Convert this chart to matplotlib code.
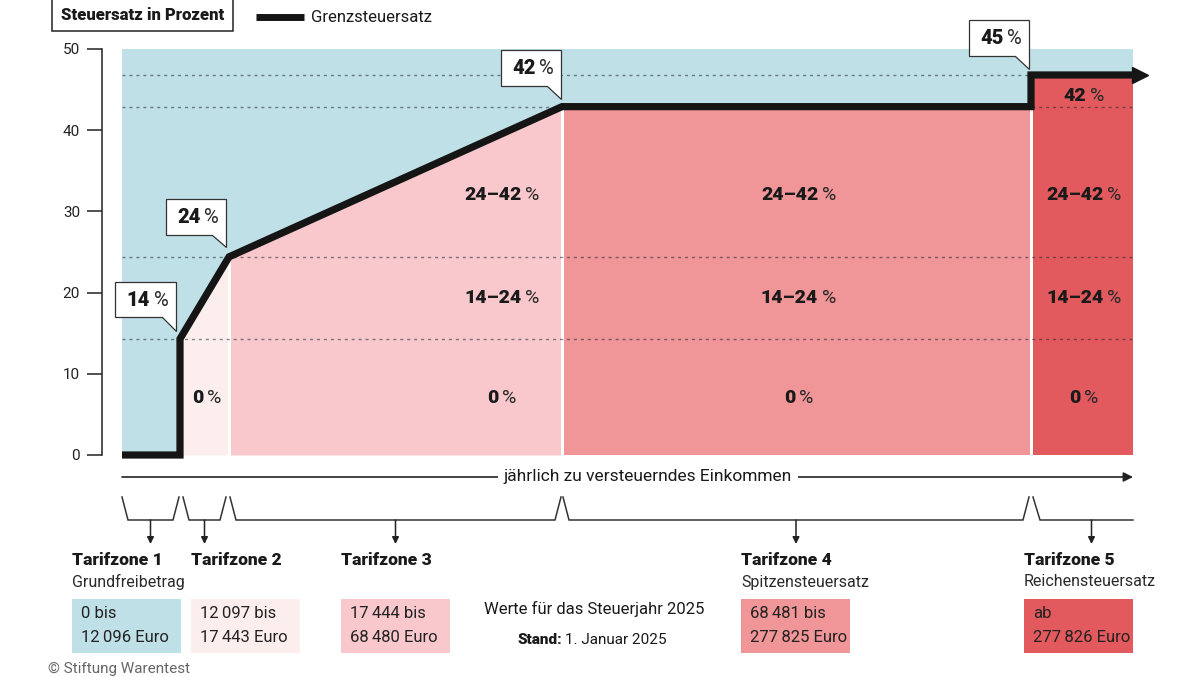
import matplotlib
matplotlib.use('Agg')
import matplotlib.pyplot as plt
import matplotlib.transforms as mtransforms
from matplotlib.patches import Polygon, Rectangle
import numpy as np

plt.rcParams['font.family'] = ['Roboto', 'DejaVu Sans']

# ---- data ----
zone_names = ['Tarifzone 1', 'Tarifzone 2', 'Tarifzone 3', 'Tarifzone 4', 'Tarifzone 5']
zone_subtitles = ['Grundfreibetrag', '', '', 'Spitzensteuersatz', 'Reichensteuersatz']
range_line1 = ['0 bis', '12\u2009097 bis', '17\u2009444 bis', '68\u2009481 bis', 'ab']
range_line2 = ['12\u2009096 Euro', '17\u2009443 Euro', '68\u2009480 Euro', '277\u2009825 Euro', '277\u2009826 Euro']

# marginal rate at the kinks (labels) and where they sit on the 0-50 scale
kink_labels = ['14', '24', '42', '45']
kink_levels = [14.3, 24.4, 42.9, 46.8]

# rate bands written inside the zones
band_labels = ['0', '14\u201324', '24\u201342']
band_levels = [7.0, 19.3, 32.0]
top_band_label = '42'
top_band_level = 44.2

y_ticks = [0, 10, 20, 30, 40, 50]

# ---- layout (schematic, x axis is not to scale) ----
W, H = 1200, 677
X0 = 122
zone_edges = [0, 58, 107, 440, 909, 1011]
zone_colors = ['#bee0e6', '#fdeeee', '#f8c8cc', '#f09598', '#e25a5e']
band_x = [82.5, 378, 674.5, 960]
label_x = [72, 191, 341, 741, 1024]
INK = '#1a1a1a'


def px_box(x0, y0, x1, y1):
    return [x0 / W, 1 - y1 / H, (x1 - x0) / W, (y1 - y0) / H]


def pct_text(axes, x, y, num, size, coords, shift=5):
    t = axes.annotate(num, xy=(x, y), xycoords=coords, xytext=(-shift, 0),
                      textcoords='offset points', ha='center', va='center',
                      fontsize=size, fontweight='heavy', color=INK, zorder=6)
    axes.annotate('%', xy=(1, 0), xycoords=t, xytext=(2.5, 0),
                  textcoords='offset points', ha='left', va='bottom',
                  fontsize=size, color='#2a2a2a', zorder=6)


fig = plt.figure(figsize=(W / 100, H / 100), dpi=100)

ax = fig.add_axes(px_box(X0, 49, X0 + zone_edges[-1], 455))
ax.set_xlim(zone_edges[0], zone_edges[-1])
ax.set_ylim(0, 50)
ax.patch.set_visible(False)

# light blue background = area above the marginal rate
ax.fill_between([zone_edges[0], zone_edges[-1]], 0, 50, color=zone_colors[0], lw=0, zorder=0)

# marginal tax rate curve
e = zone_edges
line_x = [e[0], e[1], e[1], e[2], e[3], e[4], e[4], e[5]]
line_y = [0, 0, kink_levels[0], kink_levels[1], kink_levels[2], kink_levels[2],
          kink_levels[3], kink_levels[3]]

# white under the curve so that the gaps between zones read white
ax.fill_between(line_x[2:], 0, line_y[2:], color='white', lw=0, zorder=0.5)

# zone fills under the curve
gap = 1.5
zone_tops = [None,
             (kink_levels[0], kink_levels[1]),
             (kink_levels[1], kink_levels[2]),
             (kink_levels[2], kink_levels[2]),
             (kink_levels[3], kink_levels[3])]
for i in range(1, 5):
    a = e[i] + (0 if i == 1 else gap)
    b = e[i + 1] - (gap if i < 4 else 0)
    xs = np.array([a, b])
    top = np.interp(xs, [e[i], e[i + 1]], zone_tops[i])
    ax.fill_between(xs, 0, top, color=zone_colors[i], lw=0, zorder=1)

# dotted guide lines
ax.hlines(kink_levels, e[0], e[5], colors='#1e2a30', alpha=0.55, lw=1.0,
          linestyles=(0, (2.2, 2.8)), zorder=2)

# band labels
for bx, bottom_only in zip(band_x, [True, False, False, False]):
    labels = band_labels[:1] if bottom_only else band_labels
    for lab, lev in zip(labels, band_levels):
        pct_text(ax, bx, lev, lab, 14, ax.transData)
pct_text(ax, band_x[-1], top_band_level, top_band_label, 14, ax.transData)

ax.plot(line_x, line_y, color='#151515', lw=5.2, solid_joinstyle='miter',
        solid_capstyle='butt', clip_on=False, zorder=4)
ax.plot([line_x[-1] + 7], [line_y[-1]], marker='>', ms=11.5, color='#151515',
        clip_on=False, zorder=4)

# callouts at the kinks
callout_shape = [(-4, 8, 61, 35, 14), (-3, 10, 60, 36, 12), (-1, 8, 60, 36, 13), (-2, 6, 60, 36, 13)]
kink_x = [e[1], e[2], e[3], e[4]]
for kx, lev, lab, (dx, dy, w, h, t) in zip(kink_x, kink_levels, kink_labels, callout_shape):
    tr = mtransforms.Affine2D().translate(dx, dy) + mtransforms.ScaledTranslation(kx, lev, ax.transData)
    verts = [(0, 0), (0, t + h), (-w, t + h), (-w, t), (-14, t)]
    ax.add_patch(Polygon(verts, closed=True, transform=tr, facecolor='white',
                         edgecolor='#333333', lw=0.9, clip_on=False, zorder=5))
    pct_text(ax, -w / 2, t + h / 2 - 1, lab, 14.5, tr)

# y axis
for side in ['top', 'right', 'bottom']:
    ax.spines[side].set_visible(False)
ax.spines['left'].set_position(('outward', 14.4))
ax.spines['left'].set_bounds(0, 50)
ax.spines['left'].set_color('#222222')
ax.spines['left'].set_linewidth(1.1)
ax.set_xticks([])
ax.set_yticks(y_ticks)
ax.tick_params(axis='y', length=10.8, width=1.1, pad=5, labelsize=11, colors='#222222')

# ---- overlay in pixel coordinates for header and tariff zone legend ----
lay = fig.add_axes([0, 0, 1, 1])
lay.set_xlim(0, W)
lay.set_ylim(H, 0)
lay.axis('off')
lay.patch.set_visible(False)

lay.add_patch(Rectangle((52, -2), 181, 33, facecolor='white', edgecolor='#222222', lw=1.1))
lay.text(142.5, 15, 'Steuersatz in Prozent', ha='center', va='center', fontsize=12,
         fontweight='heavy', color=INK)
lay.plot([256, 304], [17, 17], color='#151515', lw=5, solid_capstyle='butt')
lay.text(311, 17, 'Grenzsteuersatz', ha='left', va='center', fontsize=12, color=INK)

# income arrow
lay.annotate('', xy=(X0 + e[5], 477), xytext=(X0, 477),
             arrowprops=dict(arrowstyle='-|>', color='#222222', lw=1.2,
                             mutation_scale=14, shrinkA=0, shrinkB=0))
lay.text(648, 477, 'jährlich zu versteuerndes Einkommen', ha='center', va='center',
         fontsize=12.5, color=INK,
         bbox=dict(boxstyle='square,pad=0.35', facecolor='white', edgecolor='none'))

# braces under each zone with arrow down to the zone label
brace_pad = [(0, 1), (3, 3), (1, 1), (1, 2), (2, 0)]
for i in range(5):
    a = X0 + e[i] + brace_pad[i][0]
    b = X0 + e[i + 1] - brace_pad[i][1]
    if i < 4:
        bx = [a, a + 6, b - 6, b]
        by = [497, 520, 520, 497]
        cx = (a + b) / 2
    else:
        bx = [a, a + 7, b]
        by = [497, 520, 520]
        cx = (a + 7 + b) / 2 + 5
    lay.plot(bx, by, color='#333333', lw=1.1, solid_joinstyle='miter')
    lay.annotate('', xy=(cx, 544), xytext=(cx, 520),
                 arrowprops=dict(arrowstyle='-|>', color='#222222', lw=1.1,
                                 mutation_scale=10, shrinkA=0, shrinkB=0))

for i in range(5):
    lx = label_x[i]
    lay.text(lx, 560, zone_names[i], ha='left', va='center', fontsize=12.5,
             fontweight='heavy', color=INK)
    if zone_subtitles[i]:
        lay.text(lx, 582, zone_subtitles[i], ha='left', va='center', fontsize=11.5, color='#2a2a2a')
    lay.add_patch(Rectangle((lx, 599), 109, 54, facecolor=zone_colors[i], edgecolor='none'))
    lay.text(lx + 9, 614, range_line1[i], ha='left', va='center', fontsize=12, color='#222222')
    lay.text(lx + 9, 638, range_line2[i], ha='left', va='center', fontsize=12, color='#222222')

lay.text(594, 609, 'Werte für das Steuerjahr 2025', ha='center', va='center',
         fontsize=12, color=INK)
lay.text(562, 640, 'Stand:', ha='right', va='center', fontsize=11, fontweight='heavy', color=INK)
lay.text(565, 640, '1. Januar 2025', ha='left', va='center', fontsize=11, color=INK)

lay.text(48, 676, '\u00a9 Stiftung Warentest', ha='left', va='bottom', fontsize=11, color='#666666')

fig.savefig('out.png', dpi=100, facecolor='white')
